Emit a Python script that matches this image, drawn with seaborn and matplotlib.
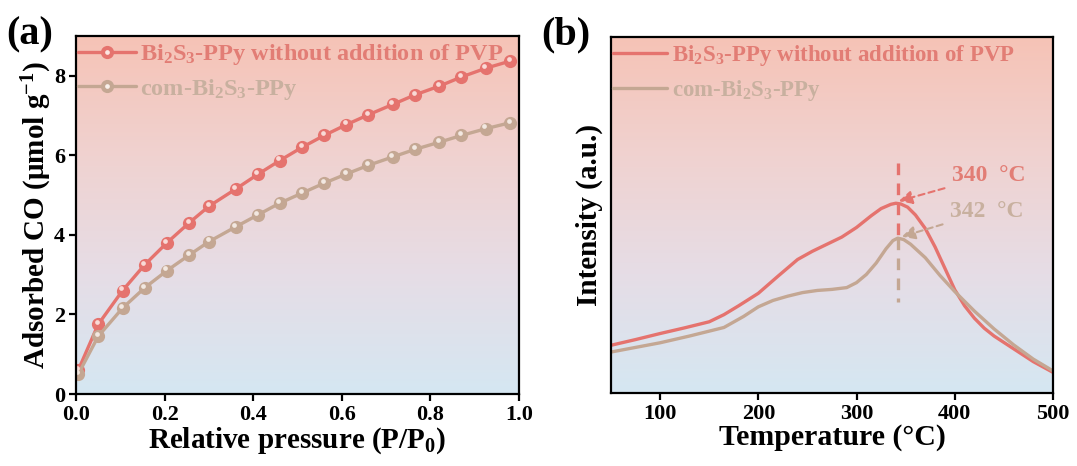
import numpy as np
import pandas as pd
import matplotlib
matplotlib.use("Agg")
import matplotlib.pyplot as plt
from matplotlib.lines import Line2D
from matplotlib.colors import LinearSegmentedColormap
from matplotlib.legend_handler import HandlerTuple
import matplotlib.transforms as mtransforms
import seaborn as sns

# ---- data -------------------------------------------------------------
# (a) CO adsorption isotherms
pressure = [0.005, 0.05, 0.105, 0.155, 0.205, 0.255, 0.30, 0.36, 0.41, 0.46,
            0.51, 0.56, 0.61, 0.66, 0.715, 0.765, 0.82, 0.87, 0.925, 0.98]
co_bi2s3_ppy = [0.60, 1.75, 2.60, 3.25, 3.80, 4.30, 4.72, 5.15, 5.52, 5.87,
                6.20, 6.50, 6.77, 7.02, 7.28, 7.52, 7.74, 7.97, 8.19, 8.37]
co_com = [0.50, 1.45, 2.16, 2.67, 3.10, 3.49, 3.83, 4.20, 4.50, 4.80,
          5.05, 5.30, 5.53, 5.75, 5.96, 6.15, 6.33, 6.50, 6.67, 6.82]

# (b) CO-TPD profiles
temp_red = [50, 75, 100, 125, 150, 165, 180, 200, 220, 240, 255, 270, 285, 300,
            315, 325, 335, 340, 345, 352, 360, 370, 380, 390, 400, 410, 420, 430,
            440, 450, 465, 480, 500]
tpd_red = [0.134, 0.150, 0.167, 0.183, 0.200, 0.220, 0.245, 0.280, 0.328, 0.375,
           0.398, 0.418, 0.438, 0.465, 0.498, 0.518, 0.530, 0.533, 0.531, 0.522,
           0.500, 0.462, 0.410, 0.350, 0.290, 0.245, 0.210, 0.182, 0.160, 0.142,
           0.115, 0.088, 0.058]
temp_com = [50, 75, 100, 130, 165, 185, 200, 215, 230, 245, 260, 275, 290, 300,
            310, 320, 330, 337, 342, 348, 355, 370, 385, 400, 420, 440, 460, 480, 500]
tpd_com = [0.115, 0.128, 0.141, 0.160, 0.184, 0.215, 0.242, 0.260, 0.272, 0.282,
           0.288, 0.291, 0.296, 0.310, 0.333, 0.365, 0.405, 0.428, 0.435, 0.431,
           0.418, 0.380, 0.330, 0.285, 0.230, 0.180, 0.135, 0.095, 0.062]

peak_red, peak_com = 340, 342
labels = [r"Bi$_2$S$_3$-PPy without addition of PVP", r"com-Bi$_2$S$_3$-PPy"]
xticks_a = [0.0, 0.2, 0.4, 0.6, 0.8, 1.0]
yticks_a = [0, 2, 4, 6, 8]
xticks_b = [100, 200, 300, 400, 500]

# ---- style ------------------------------------------------------------
RED = "#E5736E"
RED_TXT = "#E27D75"
BROWN = "#C4A793"
BROWN_TXT = "#C8B09F"
HL_RED = "#FCE6E2"
HL_BROWN = "#F8F0EA"

sns.set_style("ticks")
plt.rcParams["font.family"] = ["Liberation Serif", "DejaVu Serif"]
plt.rcParams["font.weight"] = "bold"
plt.rcParams["axes.labelweight"] = "bold"
plt.rcParams["mathtext.default"] = "regular"
plt.rcParams["text.color"] = "black"
plt.rcParams["axes.labelcolor"] = "black"
plt.rcParams["axes.linewidth"] = 1.6
plt.rcParams["xtick.major.width"] = 1.6
plt.rcParams["ytick.major.width"] = 1.6
plt.rcParams["xtick.major.size"] = 5
plt.rcParams["ytick.major.size"] = 5
plt.rcParams["xtick.color"] = "black"
plt.rcParams["ytick.color"] = "black"
plt.rcParams["xtick.labelcolor"] = "black"
plt.rcParams["ytick.labelcolor"] = "black"
plt.rcParams["axes.edgecolor"] = "black"

fig = plt.figure(figsize=(10.77, 4.66), dpi=100)
ax_a = fig.add_axes([0.0706, 0.1545, 0.4113, 0.7682])
ax_b = fig.add_axes([0.5673, 0.1567, 0.4104, 0.7639])

grad = LinearSegmentedColormap.from_list(
    "bg", ["#D5E7F2", "#E6DDE6", "#F0D2D0", "#F6C3B6"])
for ax in (ax_a, ax_b):
    ax.set_facecolor("none")
    ax.imshow(np.linspace(0, 1, 256).reshape(-1, 1), cmap=grad, origin="lower",
              extent=[0, 1, 0, 1], transform=ax.transAxes, aspect="auto",
              zorder=0, interpolation="bilinear")

# ---- (a) isotherms ----------------------------------------------------
df_a = pd.DataFrame({"p": pressure * 2,
                     "co": co_bi2s3_ppy + co_com,
                     "sample": [labels[0]] * len(pressure) + [labels[1]] * len(pressure)})
sns.lineplot(data=df_a, x="p", y="co", hue="sample", palette=[RED, BROWN],
             marker="o", markersize=9.5, markeredgewidth=0, linewidth=2.4,
             legend=False, ax=ax_a, zorder=3)
# glossy highlight on each bead
shift = mtransforms.offset_copy(ax_a.transData, fig=fig, x=-1.0, y=1.6, units="points")
for vals, hl in ((co_bi2s3_ppy, HL_RED), (co_com, HL_BROWN)):
    ax_a.plot(pressure, vals, ls="none", marker="o", ms=3.4, mew=0, color=hl,
              alpha=0.9, transform=shift, zorder=4)

ax_a.set_xlim(0, 1.0)
ax_a.set_ylim(0, 9.0)
ax_a.set_xticks(xticks_a)
ax_a.set_xticklabels([f"{v:.1f}" for v in xticks_a])
ax_a.set_yticks(yticks_a)
ax_a.set_xlabel("Relative pressure (P/P$_0$)", fontsize=21, labelpad=0)
ax_a.set_ylabel("Adsorbed CO (μmol g$^{-1}$)", fontsize=21, labelpad=0)
ax_a.tick_params(labelsize=16, direction="out", pad=3)

handles_a = [
    (Line2D([], [], color=RED, lw=2.4, marker="o", ms=9.5, mew=0),
     Line2D([], [], ls="none", marker="o", ms=3.4, mew=0, color=HL_RED)),
    (Line2D([], [], color=BROWN, lw=2.4, marker="o", ms=9.5, mew=0),
     Line2D([], [], ls="none", marker="o", ms=3.4, mew=0, color=HL_BROWN)),
]
leg_a = ax_a.legend(handles_a, labels, loc="upper left", bbox_to_anchor=(0, 0.99),
                    borderaxespad=0, borderpad=0.1, frameon=False, fontsize=17.5,
                    handlelength=2.35, handletextpad=0.2, labelspacing=0.4,
                    handler_map={tuple: HandlerTuple(ndivide=1, pad=0)})
for t, c in zip(leg_a.get_texts(), [RED_TXT, BROWN_TXT]):
    t.set_color(c)

# ---- (b) TPD ----------------------------------------------------------
df_b = pd.DataFrame({"T": temp_red + temp_com,
                     "I": tpd_red + tpd_com,
                     "sample": [labels[0]] * len(temp_red) + [labels[1]] * len(temp_com)})
sns.lineplot(data=df_b, x="T", y="I", hue="sample", palette=[RED, BROWN],
             linewidth=2.4, legend=False, ax=ax_b, zorder=3, sort=False)

peak_v_red = tpd_red[temp_red.index(peak_red)]
peak_v_com = tpd_com[temp_com.index(peak_com)]
ax_b.plot([peak_com, peak_com], [0.646, peak_v_com], ls=(0, (3.5, 2.5)),
          color=RED, lw=2.4, zorder=2)
ax_b.plot([peak_com, peak_com], [peak_v_com, 0.256], ls=(0, (3.5, 2.5)),
          color=BROWN, lw=2.4, zorder=2)

ax_b.annotate(f"{peak_red}  °C", xy=(peak_red + 3, peak_v_red + 0.006),
              xytext=(397, 0.61), ha="left", va="center", fontsize=17,
              color=RED_TXT,
              arrowprops=dict(arrowstyle="-|>", ls=(0, (3, 2)), color=RED,
                              lw=1.5, mutation_scale=20, shrinkA=3, shrinkB=0))
ax_b.annotate(f"{peak_com}  °C", xy=(peak_com + 4, peak_v_com + 0.004),
              xytext=(395, 0.511), ha="left", va="center", fontsize=17,
              color=BROWN_TXT,
              arrowprops=dict(arrowstyle="-|>", ls=(0, (3, 2)), color=BROWN,
                              lw=1.5, mutation_scale=20, shrinkA=3, shrinkB=0))

ax_b.set_xlim(50, 500)
ax_b.set_ylim(0, 1)
ax_b.set_xticks(xticks_b)
ax_b.set_yticks([])
ax_b.set_xlabel("Temperature (°C)", fontsize=21.5, labelpad=0)
ax_b.set_ylabel("Intensity (a.u.)", fontsize=21, labelpad=6)
ax_b.tick_params(axis="x", labelsize=16, direction="out", pad=3)

handles_b = [Line2D([], [], color=RED, lw=2.4), Line2D([], [], color=BROWN, lw=2.4)]
leg_b = ax_b.legend(handles_b, labels, loc="upper left", bbox_to_anchor=(0, 0.99),
                    borderaxespad=0, borderpad=0.1, frameon=False, fontsize=16.5,
                    handlelength=2.35, handletextpad=0.2, labelspacing=0.45)
for t, c in zip(leg_b.get_texts(), [RED_TXT, BROWN_TXT]):
    t.set_color(c)

for ax in (ax_a, ax_b):
    for s in ax.spines.values():
        s.set_zorder(5)

fig.text(0.006, 0.965, "(a)", fontsize=29, fontweight="bold", va="top", ha="left")
fig.text(0.503, 0.965, "(b)", fontsize=29, fontweight="bold", va="top", ha="left")

fig.savefig("out.png", dpi=100)
